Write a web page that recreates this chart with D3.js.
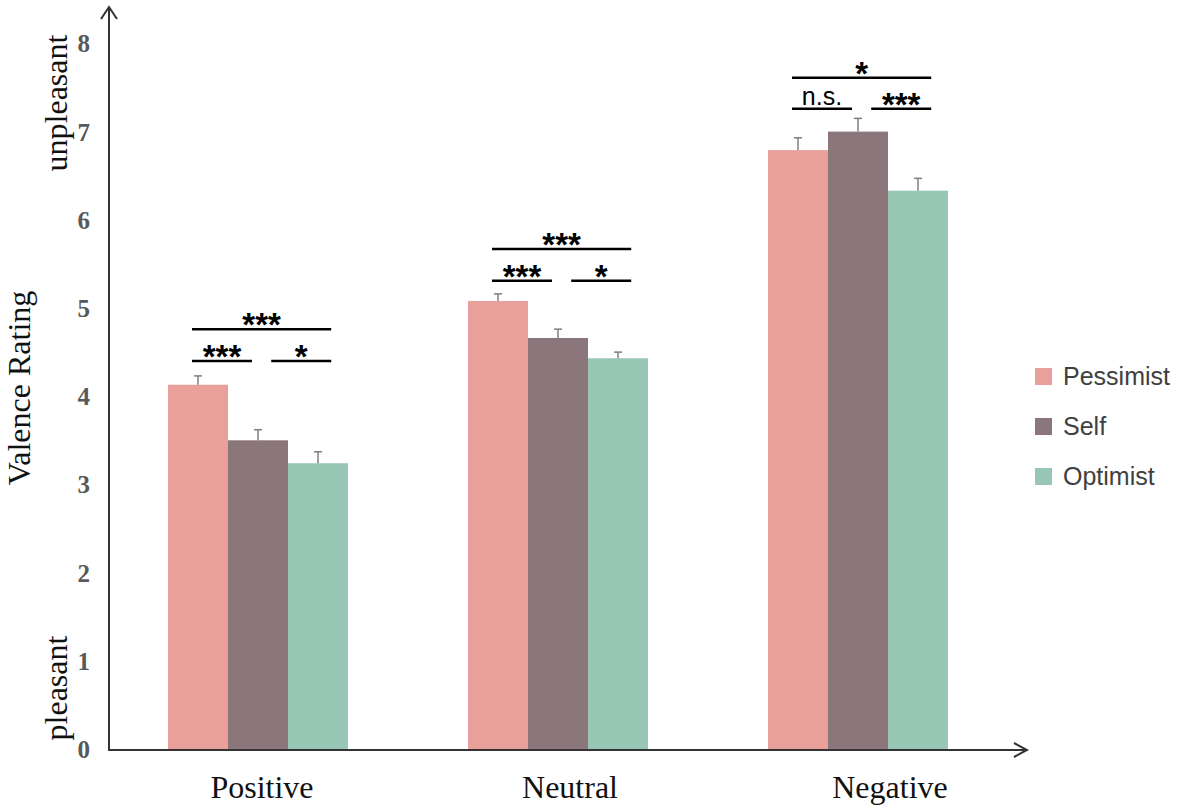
<!DOCTYPE html>
<html>
<head>
<meta charset="utf-8">
<script src="https://cdn.jsdelivr.net/npm/d3@7"></script>
<style>
body { margin: 0; background: #fff; }
</style>
</head>
<body>
<script>
var categories = ["Positive", "Neutral", "Negative"];
var groups = ["Pessimist", "Self", "Optimist"];
var colors = ["#E9A09A", "#8B777B", "#97C6B5"];

// mean valence rating per category, in order Pessimist, Self, Optimist
var pessimist = [4.13, 5.08, 6.79];
var self = [3.50, 4.66, 7.00];
var optimist = [3.24, 4.43, 6.33];
// standard error
var pessimistErr = [0.10, 0.08, 0.14];
var selfErr = [0.12, 0.10, 0.15];
var optimistErr = [0.13, 0.07, 0.14];

var yTicks = [0, 1, 2, 3, 4, 5, 6, 7, 8];

// significance brackets: [category, from group, to group, height, label]
var sigBrackets = [
    ["Positive", 0, 1, 4.40, "***"],
    ["Positive", 1, 2, 4.40, "*"],
    ["Positive", 0, 2, 4.76, "***"],
    ["Neutral", 0, 1, 5.31, "***"],
    ["Neutral", 1, 2, 5.31, "*"],
    ["Neutral", 0, 2, 5.67, "***"],
    ["Negative", 0, 1, 7.26, "n.s."],
    ["Negative", 1, 2, 7.26, "***"],
    ["Negative", 0, 2, 7.61, "*"]
];

var svgWidth = 1181;
var svgHeight = 812;

var svg = d3.select("body").append("svg").attr("width", svgWidth).attr("height", svgHeight);

var x0 = d3.scaleBand().domain(categories).range([108, 1008]).paddingInner(0.4).paddingOuter(0.2);
var x1 = d3.scaleBand().domain(d3.range(groups.length)).range([0, x0.bandwidth()]);
var y = d3.scaleLinear().domain([0, 8]).range([749, 43.4]);

var means = [pessimist, self, optimist];
var errs = [pessimistErr, selfErr, optimistErr];

var barData = [];
categories.forEach(function(c, ci) {
    groups.forEach(function(g, gi) {
        barData.push({cat: c, g: gi, value: means[gi][ci], err: errs[gi][ci]});
    });
});

var w = x1.bandwidth();

// bars
svg.append("g").selectAll("rect")
    .data(barData)
    .enter()
    .append("rect")
    .attr("x", d => x0(d.cat) + x1(d.g))
    .attr("y", d => y(d.value))
    .attr("width", w)
    .attr("height", d => y(0) - y(d.value))
    .attr("fill", d => colors[d.g]);

// error bars
var eb = svg.append("g").attr("stroke", "#7f7f7f").attr("stroke-width", 1.5);
barData.forEach(function(d) {
    var cx = x0(d.cat) + x1(d.g) + w / 2;
    eb.append("line").attr("x1", cx).attr("x2", cx).attr("y1", y(d.value)).attr("y2", y(d.value + d.err));
    eb.append("line").attr("x1", cx - 4).attr("x2", cx + 4).attr("y1", y(d.value + d.err)).attr("y2", y(d.value + d.err));
});

// significance lines
var sig = svg.append("g");
sigBrackets.forEach(function(b) {
    var xs = x0(b[0]) + x1(b[1]) + (b[1] === 0 ? 0.4 : 0.72) * w;
    var xe = x0(b[0]) + x1(b[2]) + (b[2] === 1 ? 0.4 : 0.72) * w;
    var yy = y(b[3]);
    sig.append("line").attr("x1", xs).attr("x2", xe).attr("y1", yy).attr("y2", yy)
        .attr("stroke", "#000").attr("stroke-width", 2.5);
    var isStar = b[4].indexOf("*") === 0;
    sig.append("text")
        .attr("x", (xs + xe) / 2)
        .attr("y", isStar ? yy + 7 : yy - 4)
        .attr("text-anchor", "middle")
        .style("font-family", "Arial, 'Liberation Sans', sans-serif")
        .style("font-size", isStar ? "33px" : "25px")
        .style("font-weight", isStar ? "bold" : "normal")
        .attr("fill", "#000")
        .text(b[4]);
});

// axes with arrows
var axis = svg.append("g").attr("stroke", "#333").attr("stroke-width", 2).attr("fill", "none");
axis.append("line").attr("x1", 109).attr("x2", 109).attr("y1", y(0) + 1).attr("y2", 7);
axis.append("path").attr("d", "M101,19 L109,7 L117,19");
axis.append("line").attr("x1", 108).attr("x2", 1027).attr("y1", y(0) + 1).attr("y2", y(0) + 1);
axis.append("path").attr("d", `M1014,${y(0) - 6} L1027,${y(0) + 1} L1014,${y(0) + 8}`);

// y tick labels
svg.append("g").selectAll("text")
    .data(yTicks)
    .enter()
    .append("text")
    .attr("x", 90)
    .attr("y", d => y(d) + 9)
    .attr("text-anchor", "end")
    .style("font-family", "'Liberation Serif', 'Times New Roman', serif")
    .style("font-size", "25px")
    .style("font-weight", "bold")
    .attr("fill", "#595959")
    .text(d => d);

// x category labels
var labelShift = [4, 12, 32];
svg.append("g").selectAll("text")
    .data(categories)
    .enter()
    .append("text")
    .attr("x", (d, i) => x0(d) + x0.bandwidth() / 2 + labelShift[i])
    .attr("y", 798)
    .attr("text-anchor", "middle")
    .style("font-family", "'Liberation Serif', 'Times New Roman', serif")
    .style("font-size", "32px")
    .attr("fill", "#111")
    .text(d => d);

// y axis titles
var serif = "'Liberation Serif', 'Times New Roman', serif";
svg.append("text").attr("transform", "translate(30,388) rotate(-90)")
    .attr("text-anchor", "middle").style("font-family", serif).style("font-size", "32px")
    .attr("fill", "#111").text("Valence Rating");
svg.append("text").attr("transform", "translate(67,103) rotate(-90)")
    .attr("text-anchor", "middle").style("font-family", serif).style("font-size", "32px")
    .attr("fill", "#111").text("unpleasant");
svg.append("text").attr("transform", "translate(67,688) rotate(-90)")
    .attr("text-anchor", "middle").style("font-family", serif).style("font-size", "32px")
    .attr("fill", "#111").text("pleasant");

// legend
var legend = svg.append("g").selectAll("g")
    .data(groups)
    .enter()
    .append("g")
    .attr("transform", (d, i) => `translate(1035,${385 + i * 50})`);
legend.append("rect").attr("x", 0).attr("y", -17).attr("width", 17).attr("height", 17)
    .attr("fill", (d, i) => colors[i]);
legend.append("text").attr("x", 28).attr("y", 0)
    .style("font-family", "Arial, 'Liberation Sans', sans-serif")
    .style("font-size", "25px")
    .attr("fill", "#404040")
    .text(d => d);
</script>
</body>
</html>
